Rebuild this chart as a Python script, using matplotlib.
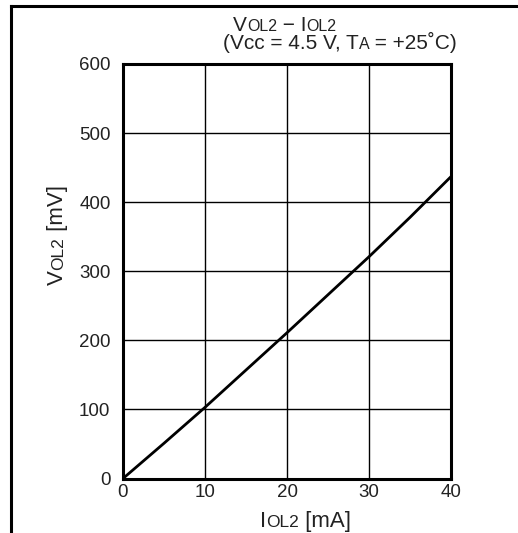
import matplotlib
matplotlib.use("Agg")
import matplotlib.pyplot as plt
import matplotlib.transforms as transforms
from matplotlib.lines import Line2D

plt.rcParams['font.family'] = ['Liberation Sans', 'DejaVu Sans']

# output low-level current vs. output voltage
iol_ma = [0, 5, 10, 15, 20, 25, 30, 35, 40]
vol_mv = [0, 51, 103, 157, 211, 266, 321, 378, 437]

x_ticks = [0, 10, 20, 30, 40]
y_ticks = [0, 100, 200, 300, 400, 500, 600]

W, H = 518, 533
fig = plt.figure(figsize=(W / 100, H / 100), dpi=100)
ax = fig.add_axes([123 / W, 1 - 478.5 / H, 328 / W, 414.5 / H])

ax.plot(iol_ma, vol_mv, color='black', lw=2.0, solid_capstyle='butt')
ax.set_xlim(0, 40)
ax.set_ylim(0, 600)
ax.set_xticks(x_ticks)
ax.set_yticks(y_ticks)
ax.grid(True, color='black', lw=1.0)
ax.tick_params(length=0, labelsize=13.5, labelcolor='#222222')
ax.tick_params(axis='x', pad=4)
ax.tick_params(axis='y', pad=9)
for s in ax.spines.values():
    s.set_linewidth(2.2)

# outer frame (left and top edges only)
fig.add_artist(Line2D([11 / W, 11 / W], [0, 1 - 6 / H], color='black', lw=2.2,
                      transform=fig.transFigure))
fig.add_artist(Line2D([11 / W, 1], [1 - 6 / H, 1 - 6 / H], color='black', lw=2.2,
                      transform=fig.transFigure))

renderer = fig.canvas.get_renderer()


def mixed(px, py, parts, rotation=0):
    """Draw a run of text pieces with different sizes sharing one baseline."""
    off = 0.0
    for s, size in parts:
        if rotation:
            tr = transforms.offset_copy(fig.transFigure, fig=fig, x=0, y=off, units='dots')
        else:
            tr = transforms.offset_copy(fig.transFigure, fig=fig, x=off, y=0, units='dots')
        t = fig.text(px / W, 1 - py / H, s, fontsize=size, transform=tr,
                     ha='left', va='baseline', rotation=rotation,
                     rotation_mode='anchor', color='#222222')
        bb = t.get_window_extent(renderer)
        off += bb.height if rotation else bb.width


BIG, SMALL = 15, 11.5
mixed(233, 31, [('V', BIG), ('OL2', SMALL), (' \u2212 I', BIG), ('OL2', SMALL)])
mixed(223, 49, [('(Vcc = 4.5 V, T', BIG), ('A', SMALL), (' = +25\u02daC)', BIG)])
mixed(260, 527, [('I', BIG + 1), ('OL2', SMALL + 1), (' [mA]', BIG + 1)])
mixed(63, 285, [('V', BIG + 1), ('OL2', SMALL + 1), (' [mV]', BIG + 1)], rotation=90)

fig.savefig('out.png', dpi=100)
